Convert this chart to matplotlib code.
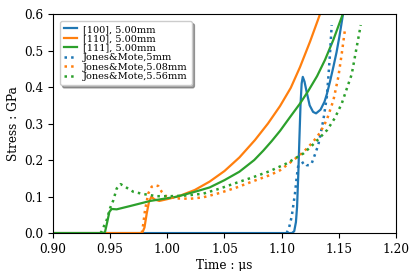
import matplotlib
matplotlib.use('Agg')
import matplotlib.pyplot as plt

plt.rcParams['font.family'] = 'DejaVu Serif'

# [100] 5.00mm (simulation)
t_100 = [0.90, 1.109, 1.111, 1.1125, 1.1135, 1.1146, 1.1155, 1.1165, 1.1175, 1.1185,
         1.120, 1.122, 1.1245, 1.1275, 1.1301, 1.134, 1.1375, 1.1395, 1.1423, 1.1453,
         1.148, 1.1505, 1.1537, 1.157]
s_100 = [0.0, 0.0, 0.005, 0.03, 0.072, 0.164, 0.255, 0.35, 0.41, 0.428,
         0.415, 0.385, 0.35, 0.332, 0.328, 0.338, 0.36, 0.38, 0.415, 0.456,
         0.495, 0.538, 0.60, 0.66]

# [110] 5.00mm
t_110 = [0.90, 0.978, 0.980, 0.982, 0.984, 0.986, 0.989, 0.993, 1.000, 1.010, 1.024,
         1.037, 1.050, 1.063, 1.0767, 1.088, 1.0986, 1.108, 1.1161, 1.1249, 1.1336, 1.14]
s_110 = [0.0, 0.0, 0.015, 0.054, 0.086, 0.099, 0.092, 0.088, 0.093, 0.101, 0.118,
         0.141, 0.170, 0.207, 0.255, 0.300, 0.348, 0.398, 0.455, 0.525, 0.60, 0.66]

# [111] 5.00mm
t_111 = [0.90, 0.944, 0.9455, 0.9475, 0.9493, 0.9513, 0.9557, 0.9674, 0.985, 1.008,
         1.024, 1.037, 1.050, 1.063, 1.076, 1.084, 1.0913, 1.0986, 1.1074, 1.1161,
         1.1234, 1.131, 1.138, 1.1453, 1.1535, 1.16]
s_111 = [0.0, 0.0, 0.003, 0.031, 0.058, 0.066, 0.065, 0.074, 0.088, 0.0995,
         0.113, 0.125, 0.145, 0.168, 0.200, 0.226, 0.252, 0.280, 0.318, 0.355,
         0.390, 0.430, 0.475, 0.530, 0.60, 0.65]

# Jones & Mote experiments
t_jm5 = [1.1044, 1.1065, 1.1088, 1.1117, 1.1132, 1.1146, 1.1176, 1.1196, 1.122, 1.1245,
         1.1263, 1.129, 1.132, 1.1336, 1.1365, 1.1395, 1.1409, 1.1423, 1.1438]
s_jm5 = [0.0, 0.015, 0.045, 0.109, 0.154, 0.186, 0.191, 0.195, 0.186, 0.186,
         0.191, 0.214, 0.241, 0.264, 0.31, 0.373, 0.428, 0.492, 0.57]

t_jm508 = [0.9776, 0.9790, 0.9805, 0.9834, 0.9863, 0.9892, 0.9921, 0.9951, 0.9995, 1.0082,
           1.020, 1.0315, 1.046, 1.0607, 1.075, 1.0899, 1.0986, 1.1132, 1.119, 1.1234,
           1.128, 1.1336, 1.1395, 1.1453, 1.1496, 1.1526, 1.1555]
s_jm508 = [0.0, 0.025, 0.063, 0.109, 0.127, 0.131, 0.129, 0.113, 0.0995, 0.095,
           0.094, 0.098, 0.110, 0.125, 0.142, 0.159, 0.172, 0.207, 0.222, 0.236,
           0.252, 0.275, 0.31, 0.364, 0.428, 0.492, 0.56]

t_jm556 = [0.9415, 0.9426, 0.947, 0.9499, 0.9528, 0.9557, 0.9592, 0.963, 0.9703, 0.979,
           0.9907, 1.0024, 1.017, 1.0315, 1.046, 1.0607, 1.075, 1.0899, 1.1045, 1.119,
           1.126, 1.133, 1.140, 1.1465, 1.1526, 1.158, 1.1613, 1.1645, 1.1692]
s_jm556 = [0.0, 0.005, 0.036, 0.068, 0.09, 0.122, 0.134, 0.127, 0.113, 0.107,
           0.101, 0.101, 0.103, 0.108, 0.122, 0.138, 0.153, 0.170, 0.191, 0.218,
           0.238, 0.26, 0.283, 0.315, 0.355, 0.405, 0.435, 0.49, 0.57]

fig = plt.figure(figsize=(4.19, 2.71), dpi=100)
ax = fig.add_axes([0.1265, 0.140, 0.8185, 0.808])

ax.plot(t_100, s_100, color='C0', lw=1.6, label='[100], 5.00mm')
ax.plot(t_110, s_110, color='C1', lw=1.6, label='[110], 5.00mm')
ax.plot(t_111, s_111, color='C2', lw=1.6, label='[111], 5.00mm')
ax.plot(t_jm5, s_jm5, ':', color='C0', lw=1.8, label='Jones&Mote,5mm')
ax.plot(t_jm508, s_jm508, ':', color='C1', lw=1.8, label='Jones&Mote,5.08mm')
ax.plot(t_jm556, s_jm556, ':', color='C2', lw=1.8, label='Jones&Mote,5.56mm')

ax.set_xlim(0.90, 1.20)
ax.set_ylim(0.0, 0.6)
ax.set_xticks([0.90, 0.95, 1.00, 1.05, 1.10, 1.15, 1.20])
ax.set_yticks([0.0, 0.1, 0.2, 0.3, 0.4, 0.5, 0.6])
ax.tick_params(labelsize=8.7)
ax.set_xlabel('Time : μs', fontsize=8.7, labelpad=2)
ax.set_ylabel('Stress : GPa', fontsize=8.7, labelpad=3)

ax.legend(loc='upper left', fontsize=7, shadow=True, labelspacing=0.05,
          handlelength=1.4, handletextpad=0.6, borderaxespad=0.7, borderpad=0.4)

fig.savefig('out.png', dpi=100)
